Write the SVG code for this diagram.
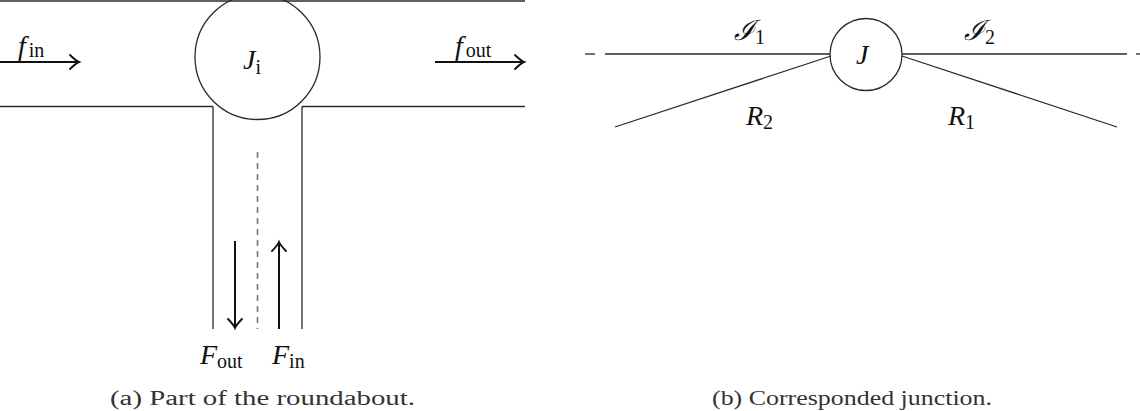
<svg xmlns="http://www.w3.org/2000/svg" width="1140" height="411" viewBox="0 0 1140 411">
<defs>
<style>
.ln{stroke:#2a2a2a;stroke-width:1.3;fill:none}
.ar{stroke:#111;stroke-width:2;fill:none}
.m{font-family:"Liberation Serif","DejaVu Serif",serif;font-style:italic;font-size:28px;fill:#111}
.s{font-style:normal;font-size:20px}
.cap{font-family:"Liberation Serif","DejaVu Serif",serif;font-size:20px;fill:#333}
</style>
<marker id="tip" markerUnits="userSpaceOnUse" markerWidth="18" markerHeight="18" viewBox="-13 -9 15 18" refX="0" refY="0" orient="auto">
<path d="M-9,-7 Q-3,-1.2 0,0 Q-3,1.2 -9,7" fill="none" stroke="#111" stroke-width="1.9" stroke-linecap="round"/>
</marker>
</defs>
<g id="roads">
<line class="ln" x1="0" y1="1" x2="525" y2="1"/>
<line class="ln" x1="0" y1="106.5" x2="213" y2="106.5"/>
<line class="ln" x1="302" y1="106.5" x2="525" y2="106.5"/>
<line class="ln" x1="213" y1="106.5" x2="213" y2="329"/>
<line class="ln" x1="302" y1="106.5" x2="302" y2="329"/>
<line x1="257.5" y1="152" x2="257.5" y2="329" stroke-dasharray="6,5" stroke="#777" stroke-width="1.6"/>
</g>
<g id="node-Ji">
<circle class="ln" cx="257.5" cy="57" r="62.5" fill="#fff"/>
<text class="m" x="243" y="69">J<tspan class="s" dy="5" font-style="italic">i</tspan></text>
</g>
<g id="connectors-a">
<line class="ar" x1="0" y1="62" x2="79" y2="62" marker-end="url(#tip)"/>
<line class="ar" x1="435" y1="62" x2="524" y2="62" marker-end="url(#tip)"/>
<line class="ar" x1="235" y1="241" x2="235" y2="328" marker-end="url(#tip)"/>
<line class="ar" x1="279" y1="329" x2="279" y2="242" marker-end="url(#tip)"/>
</g>
<g id="labels-a">
<text class="m" x="18" y="55">f<tspan class="s" dx="3" dy="2">in</tspan></text>
<text class="m" x="455" y="55">f<tspan class="s" dx="3" dy="2">out</tspan></text>
<text class="m" x="200" y="364" font-size="30">F<tspan class="s" dy="4">out</tspan></text>
<text class="m" x="272" y="364" font-size="30">F<tspan class="s" dy="4">in</tspan></text>
</g>
<g id="connectors-b">
<line class="ln" x1="585" y1="54" x2="595" y2="54"/>
<line class="ln" x1="605" y1="54" x2="830" y2="54"/>
<line class="ln" x1="902" y1="54" x2="1127" y2="54"/>
<line class="ln" x1="1136" y1="54" x2="1140" y2="54"/>
<line class="ln" x1="615" y1="127" x2="831" y2="56"/>
<line class="ln" x1="902" y1="56" x2="1117" y2="127"/>
</g>
<g id="node-J">
<circle class="ln" cx="866" cy="54.5" r="36" fill="#fff"/>
<text class="m" x="856" y="64">J</text>
</g>
<g id="labels-b">
<text class="m" x="734" y="40">ℐ<tspan class="s" dy="4">1</tspan></text>
<text class="m" x="964" y="40">ℐ<tspan class="s" dy="4">2</tspan></text>
<text class="m" x="746" y="125">R<tspan class="s" dy="4">2</tspan></text>
<text class="m" x="948" y="125">R<tspan class="s" dy="4">1</tspan></text>
</g>
<g id="captions">
<text class="cap" x="110" y="405" textLength="305" lengthAdjust="spacingAndGlyphs">(a) Part of the roundabout.</text>
<text class="cap" x="712" y="405" textLength="280" lengthAdjust="spacingAndGlyphs">(b) Corresponded junction.</text>
</g>
</svg>
